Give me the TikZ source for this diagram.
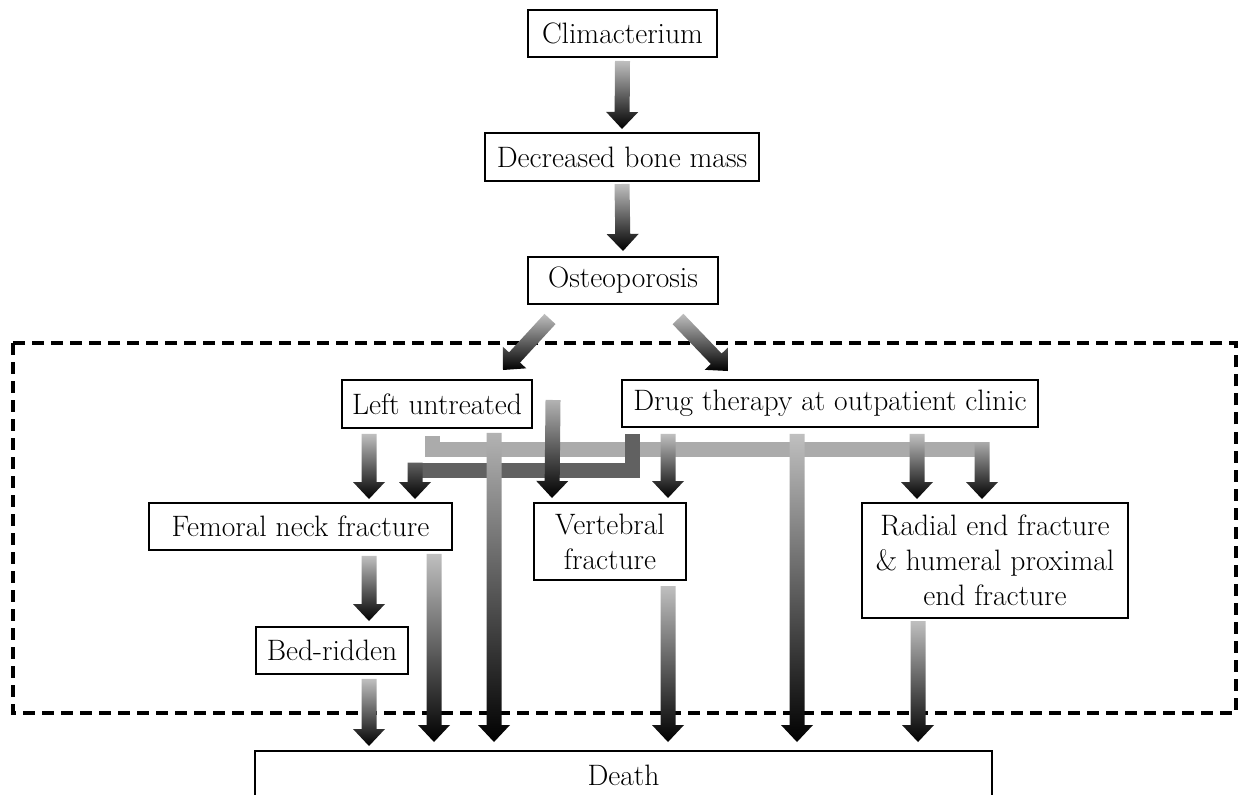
\documentclass[tikz,border=0pt]{standalone}
\usetikzlibrary{calc}

% thick arrow with a light-to-black shading, from #2 to #3
\newcommand{\fatarrow}[3][black!25]{%
    \coordinate (fas) at #2;
    \coordinate (fae) at #3;
    \coordinate (faq) at ($(fae)!0.425cm!(fas)$);
    \shade[top color=#1, bottom color=black]
        ($(fas)!0.1875cm!90:(fae)$) -- ($(faq)!0.1875cm!90:(fae)$)
        -- ($(faq)!0.4cm!90:(fae)$) -- (fae)
        -- ($(faq)!0.4cm!-90:(fae)$) -- ($(faq)!0.1875cm!-90:(fae)$)
        -- ($(fas)!0.1875cm!-90:(fae)$) -- cycle;
}

\begin{document}
\begin{tikzpicture}[x=0.025cm, y=-0.025cm,
    every node/.style={font=\fontsize{21}{25}\selectfont},
    box/.style={draw, line width=1.4pt, inner sep=0pt, align=center, fill=white},
    bar/.style={line width=0.375cm}]

    \useasboundingbox (0,0) rectangle (1242,795);
    \clip (0,0) rectangle (1242,795);

    % dashed frame
    \draw[line width=2.3pt, dash pattern=on 0.3cm off 0.175cm] (13,343) rectangle (1236,713);

    \node[box, 
        minimum width=4.725cm, 
        minimum height=1.175cm
        ] (clim) at (622.5,33.5) {Climacterium};

    \node[box, 
        minimum width=6.85cm, 
        minimum height=1.2cm
        ] (bone) at (622,157) {Decreased bone mass};

    \node[box, 
        minimum width=4.75cm, 
        minimum height=1.175cm
        ] (osteo) at (623,280.5) {Osteoporosis};

    \node[box, 
        minimum width=4.75cm, 
        minimum height=1.2cm
        ] (untreated) at (437,404) {Left untreated};

    \node[box, 
        minimum width=10.4cm, 
        minimum height=1.175cm
        ] (drug) at (830,403.5) {Drug therapy at outpatient clinic};

    \node[box, 
        minimum width=7.575cm, 
        minimum height=1.175cm
        ] (femoral) at (300.5,526.5) {Femoral neck fracture};

    \node[box, 
        minimum width=3.8cm, 
        minimum height=1.925cm
        ] (vertebral) at (610,541.5) {Vertebral\\fracture};

    \node[box, 
        minimum width=6.65cm, 
        minimum height=2.875cm
        ] (radial) at (995,560.5) {Radial end fracture\\\& humeral proximal\\end fracture};

    \node[box, 
        minimum width=3.8cm, 
        minimum height=1.175cm
        ] (bedridden) at (332,650.5) {Bed-ridden};

    \node[box, 
        minimum width=18.425cm, 
        minimum height=1.2cm
        ] (death) at (623.5,775) {Death};

    % upper chain
    \fatarrow{($(clim.south)+(0,3)$)}{($(bone.north)+(0,-3)$)}
    \fatarrow{($(bone.south)+(0,2)$)}{($(osteo.north)+(0,-5)$)}
    \fatarrow{($(osteo.south)+(-73,14)$)}{($(untreated.north)+(66,-9)$)}
    \fatarrow{($(osteo.south)+(55,14)$)}{($(drug.north)+(-102,-8)$)}

    % bent connectors
    \coordinate (lbend) at (982,449.5);
    \coordinate (dbend) at (415,470);
    \draw[bar, black!33] ($(432,0 |- untreated.south)+(0,7)$) |- (lbend);
    \draw[bar, black!62] ($(632,0 |- drug.south)+(0,6)$) |- (dbend);
    \fatarrow[black!33]{($(lbend)+(0,-7.5)$)}{($(982,0 |- radial.north)+(0,-3)$)}
    \fatarrow[black!62]{($(dbend)+(0,-7.5)$)}{($(415,0 |- femoral.north)+(0,-3)$)}

    % from left untreated
    \fatarrow{($(369,0 |- untreated.south)+(0,5)$)}{($(369,0 |- femoral.north)+(0,-3)$)}
    \fatarrow[black!30]{($(494,0 |- untreated.south)+(0,4)$)}{($(494,0 |- death.north)+(0,-8)$)}
    \fatarrow[black!30]{($(untreated.east)+(20,-4)$)}{($(552,0 |- vertebral.north)+(0,-4)$)}

    % from drug therapy
    \fatarrow{($(668,0 |- drug.south)+(0,6)$)}{($(668,0 |- vertebral.north)+(0,-4)$)}
    \fatarrow{($(797,0 |- drug.south)+(0,6)$)}{($(797,0 |- death.north)+(0,-8)$)}
    \fatarrow{($(917,0 |- drug.south)+(0,6)$)}{($(917,0 |- radial.north)+(0,-3)$)}

    % to death
    \fatarrow{($(369,0 |- femoral.south)+(0,5)$)}{($(369,0 |- bedridden.north)+(0,-5)$)}
    \fatarrow{($(434,0 |- femoral.south)+(0,3)$)}{($(434,0 |- death.north)+(0,-8)$)}
    \fatarrow{($(369,0 |- bedridden.south)+(0,4)$)}{($(369,0 |- death.north)+(0,-4)$)}
    \fatarrow{($(668,0 |- vertebral.south)+(0,5)$)}{($(668,0 |- death.north)+(0,-8)$)}
    \fatarrow{($(918,0 |- radial.south)+(0,2)$)}{($(918,0 |- death.north)+(0,-8)$)}

\end{tikzpicture}
\end{document}
